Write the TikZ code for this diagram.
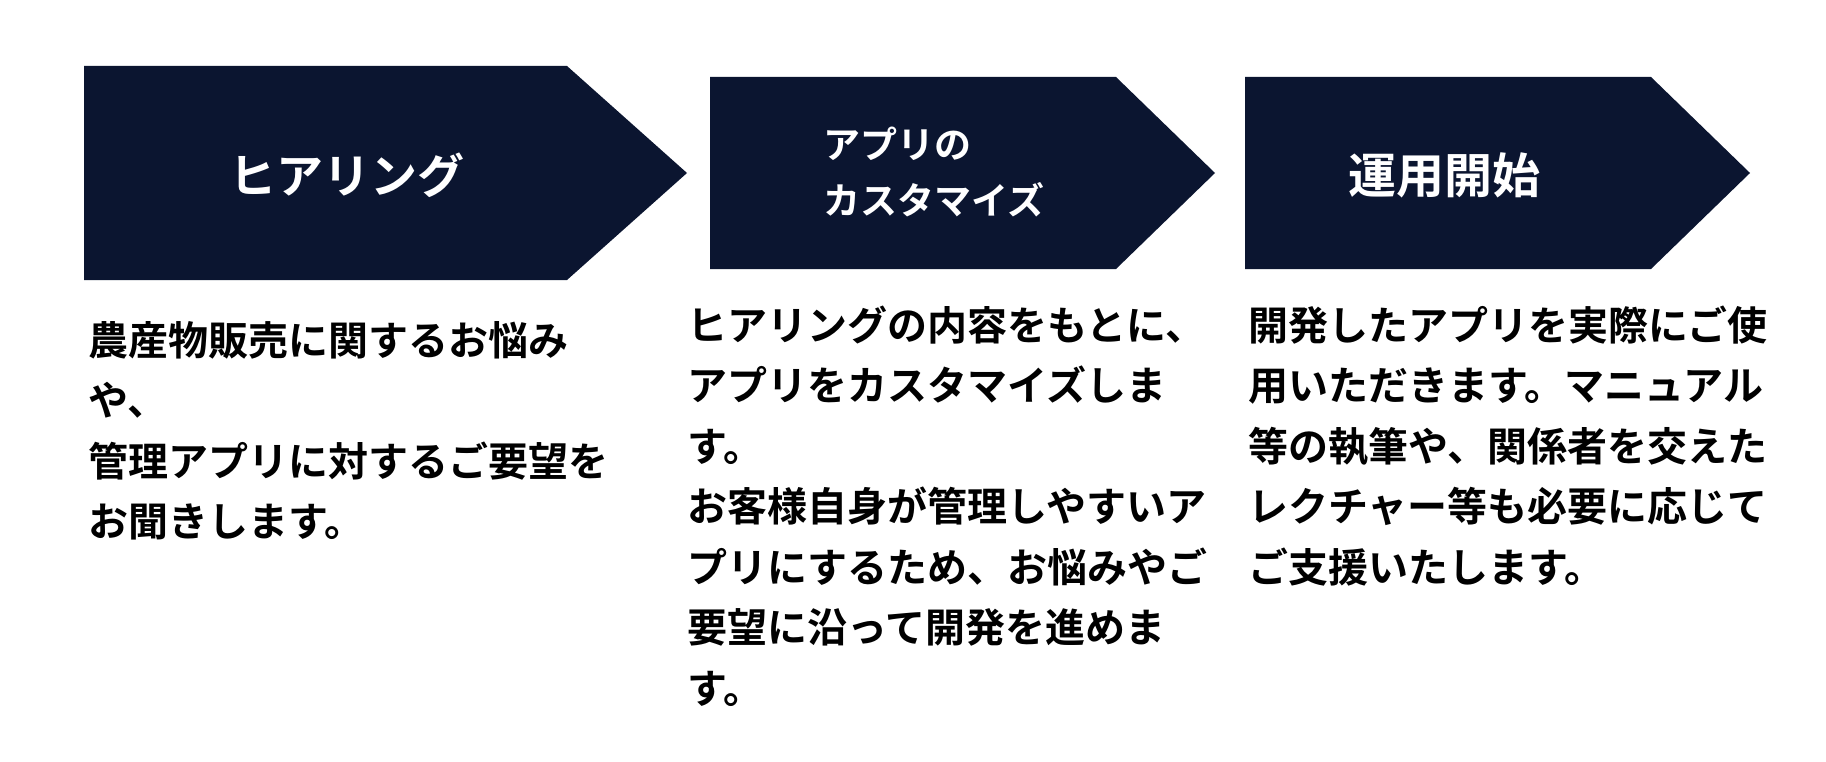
\documentclass[tikz,border=0pt]{standalone}
\usepackage{fontspec}
\setmainfont{Noto Sans CJK JP}[BoldFont={Noto Sans CJK JP Bold}]
\usepackage{xcolor}
\definecolor{navy}{HTML}{0B1530}

\begin{document}
\begin{tikzpicture}[x=1pt, y=-1pt,
  chevron/.style={fill=navy},
  title/.style={text=white, inner sep=0pt, align=left},
  body/.style={anchor=base west, align=left, inner sep=0pt, font=\bfseries\fontsize{40}{60.5}\selectfont}]
  \useasboundingbox (0,0) rectangle (1826,762);
  \fill[chevron] (84,66) -- (567,66) -- (687,173) -- (567,280) -- (84,280) -- cycle;
  \fill[chevron] (710,77) -- (1116,77) -- (1215,173) -- (1116,269) -- (710,269) -- cycle;
  \fill[chevron] (1245,77) -- (1651,77) -- (1750,173) -- (1651,269) -- (1245,269) -- cycle;
  \node[title, font=\bfseries\fontsize{47}{56}\selectfont] (T1) at (347,175) {ヒアリング};
  \node[title, anchor=west, font=\bfseries\fontsize{37}{56}\selectfont] (T2) at (823,172) {アプリの\\カスタマイズ};
  \node[title, font=\bfseries\fontsize{48}{56}\selectfont] (T3) at (1444,175) {運用開始};
  % base of a multi-line node is its last line
  \node[body] (B1) at (88,536.5) {農産物販売に関するお悩み\\や、\\管理アプリに対するご要望を\\お聞きします。};
  \node[body] (B2) at (687,703) {ヒアリングの内容をもとに、\\アプリをカスタマイズしま\\す。\\お客様自身が管理しやすいア\\プリにするため、お悩みやご\\要望に沿って開発を進めま\\す。};
  \node[body] (B3) at (1248,582) {開発したアプリを実際にご使\\用いただきます。マニュアル\\等の執筆や、関係者を交えた\\レクチャー等も必要に応じて\\ご支援いたします。};
\end{tikzpicture}
\end{document}
